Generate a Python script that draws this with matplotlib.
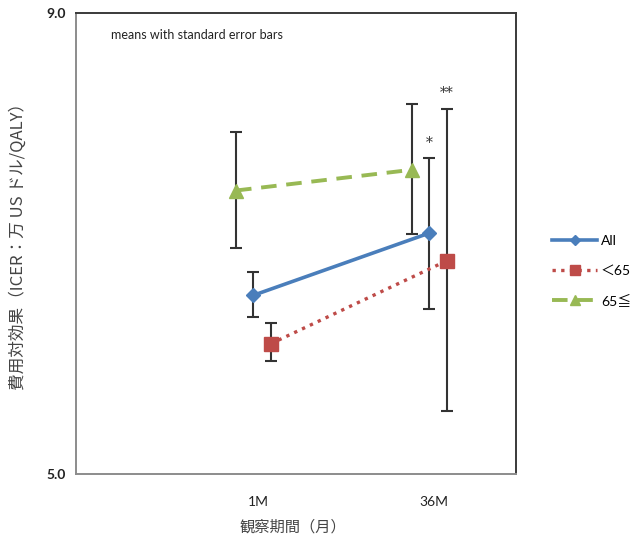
import numpy as np
import matplotlib
matplotlib.use('Agg')
import matplotlib.pyplot as plt

plt.rcParams['font.family'] = ['Lato', 'Noto Sans CJK JP', 'DejaVu Sans']

periods = ['1M', '36M']
groups = ['All', '＜65', '65≦']
means = {'All': [6.55, 7.09], '＜65': [6.13, 6.85], '65≦': [7.46, 7.64]}
err_lo = {'All': [0.19, 0.66], '＜65': [0.15, 1.30], '65≦': [0.50, 0.56]}
err_hi = {'All': [0.20, 0.65], '＜65': [0.18, 1.32], '65≦': [0.51, 0.57]}
stars = {'All': ['', '*'], '＜65': ['', '**'], '65≦': ['', '']}

colors = {'All': '#4a7ebb', '＜65': '#be4b48', '65≦': '#98b954'}
shift = {'All': 0.0, '＜65': 0.10, '65≦': -0.097}
styles = {'All': dict(ls='-', marker='D', ms=7.5, lw=2.6),
          '＜65': dict(ls=(0, (1, 1.6)), marker='s', ms=10, lw=2.4),
          '65≦': dict(ls=(0, (4, 2.5)), marker='^', ms=10, lw=2.8)}

fig = plt.figure(figsize=(6.33, 5.41), dpi=100)
ax = fig.add_axes([0.1201, 0.1238, 0.6951, 0.8521])

x = np.arange(len(periods))
for g in groups:
    xs = x + shift[g]
    ax.errorbar(xs, means[g], yerr=[err_lo[g], err_hi[g]], fmt='none',
                ecolor='#333333', elinewidth=1.5, capsize=4.5, capthick=1.5, zorder=2)
    ax.plot(xs, means[g], color=colors[g], mec=colors[g], mfc=colors[g],
            label=g, zorder=3, **styles[g])
    for xi, m, e, s in zip(xs, means[g], err_hi[g], stars[g]):
        if s:
            ax.annotate(s, (xi, m + e), xytext=(0, 6), textcoords='offset points',
                        ha='center', va='bottom', fontsize=10, color='#333333',
                        family=['DejaVu Serif'])

ax.set_xlim(-1.006, 1.494)
ax.set_ylim(5.0, 9.0)
ax.set_yticks([5.0, 9.0])
ax.set_yticklabels(['5.0', '9.0'], fontsize=10, fontweight='bold', color='#222222')
ax.set_xticks(x + 0.03)
ax.set_xticklabels(periods, fontsize=10, color='#222222')
ax.tick_params(axis='both', length=0)
ax.tick_params(axis='x', pad=16)
ax.tick_params(axis='y', pad=7)

for side in ['left', 'bottom']:
    ax.spines[side].set_color('#8c8c8c')
    ax.spines[side].set_linewidth(1.4)
for side in ['top', 'right']:
    ax.spines[side].set_color('#3a3a3a')
    ax.spines[side].set_linewidth(1.4)

ax.text(0.08, 0.965, 'means with standard error bars', transform=ax.transAxes,
        fontsize=9, color='#222222', va='top')

fig.text(18 / 633, 1 - 242 / 541, '費用対効果（ICER：万 US ドル/QALY）', rotation=90,
         fontsize=12, color='#444444', ha='center', va='center',
         family=['Noto Sans CJK JP'])
fig.text(293 / 633, 1 - 527 / 541, '観察期間（月）', fontsize=11, color='#444444',
         ha='center', va='center', family=['Noto Sans CJK JP'])

ax.legend(loc='center left', bbox_to_anchor=(1.07, 0.44), frameon=False,
          fontsize=10, handlelength=3.2, labelspacing=1.25, handletextpad=0.3,
          markerscale=0.7, borderaxespad=0)

fig.savefig('out.png', dpi=100)
